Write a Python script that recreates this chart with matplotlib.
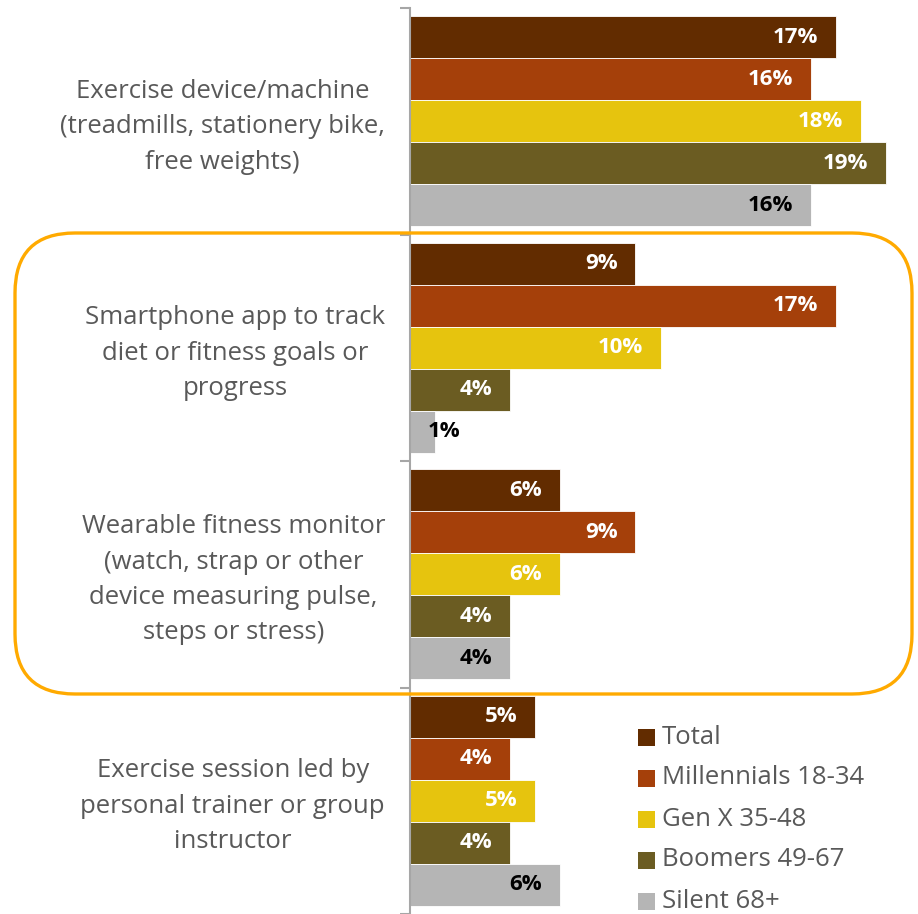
import matplotlib.pyplot as plt
from matplotlib.patches import FancyBboxPatch, Rectangle
import numpy as np

plt.rcParams['font.family'] = ['Open Sans', 'DejaVu Sans']

categories = [
    "Exercise device/machine\n(treadmills, stationery bike,\nfree weights)",
    "Smartphone app to track\ndiet or fitness goals or\nprogress",
    "Wearable fitness monitor\n(watch, strap or other\ndevice measuring pulse,\nsteps or stress)",
    "Exercise session led by\npersonal trainer or group\ninstructor",
]
series = ["Total", "Millennials 18-34", "Gen X 35-48", "Boomers 49-67", "Silent 68+"]
total = [17, 9, 6, 5]
millennials = [16, 17, 9, 4]
gen_x = [18, 10, 6, 5]
boomers = [19, 4, 4, 4]
silent = [16, 1, 4, 6]

colors = ["#622c00", "#a5400a", "#e6c40e", "#6b5c22", "#b5b5b5"]
label_colors = ["white", "white", "white", "white", "black"]
values = [total, millennials, gen_x, boomers, silent]

W, H = 918, 914
fig = plt.figure(figsize=(W / 100, H / 100), dpi=100)
ax = fig.add_axes([410 / W, 0, 496 / W, 906 / H])

bar_h = 0.185
pos = np.arange(len(categories))
for j, (vals, col, lc) in enumerate(zip(values, colors, label_colors)):
    y = pos - 2.5 * bar_h + bar_h * (j + 0.5)
    ax.barh(y, vals, height=bar_h, color=col, edgecolor='white', linewidth=0.6)
    for yy, v in zip(y, vals):
        if v < 2:
            ax.annotate(f"{v}%", (0, yy), xytext=(13, 0), textcoords='offset points',
                        ha='left', va='center', fontsize=16, fontweight='bold', color=lc)
        else:
            ax.annotate(f"{v}%", (v, yy), xytext=(-13, 0), textcoords='offset points',
                        ha='right', va='center', fontsize=16, fontweight='bold', color=lc)

ax.set_xlim(0, 19.8)
ax.set_ylim(3.5, -0.5)
for s in ['top', 'right', 'bottom']:
    ax.spines[s].set_visible(False)
ax.spines['left'].set_color('#a6a6a6')
ax.spines['left'].set_linewidth(1.5)
ax.set_xticks([])
ax.set_yticks(np.arange(-0.5, 4, 1))
ax.set_yticklabels([])
ax.tick_params(axis='y', length=7, width=1.5, color='#a6a6a6')

# category names, right edge just left of the axis
for i, name in enumerate(categories):
    ax.annotate(name, (0, i), xytext=(-18, -4), textcoords='offset points',
                ha='right', va='center', multialignment='center',
                fontsize=18.5, color='#595959', linespacing=1.55, annotation_clip=False)

# highlight box around the two tracking-device groups
box = FancyBboxPatch((0.15, 2.20), 8.97, 4.61, boxstyle="round,pad=0,rounding_size=0.6",
                     transform=fig.dpi_scale_trans, fill=False, edgecolor='#ffaa00',
                     linewidth=2.4, zorder=10)
fig.add_artist(box)

# legend
for j, (name, col) in enumerate(zip(series, colors)):
    yc = 737 + 41 * j
    fig.add_artist(Rectangle((638 / W, 1 - (yc + 8.5) / H), 17 / W, 17 / H,
                             transform=fig.transFigure, facecolor=col, edgecolor='none'))
    fig.text(662 / W, 1 - yc / H, name, ha='left', va='center', fontsize=18.5, color='#595959')

fig.savefig('out.png', dpi=100)
